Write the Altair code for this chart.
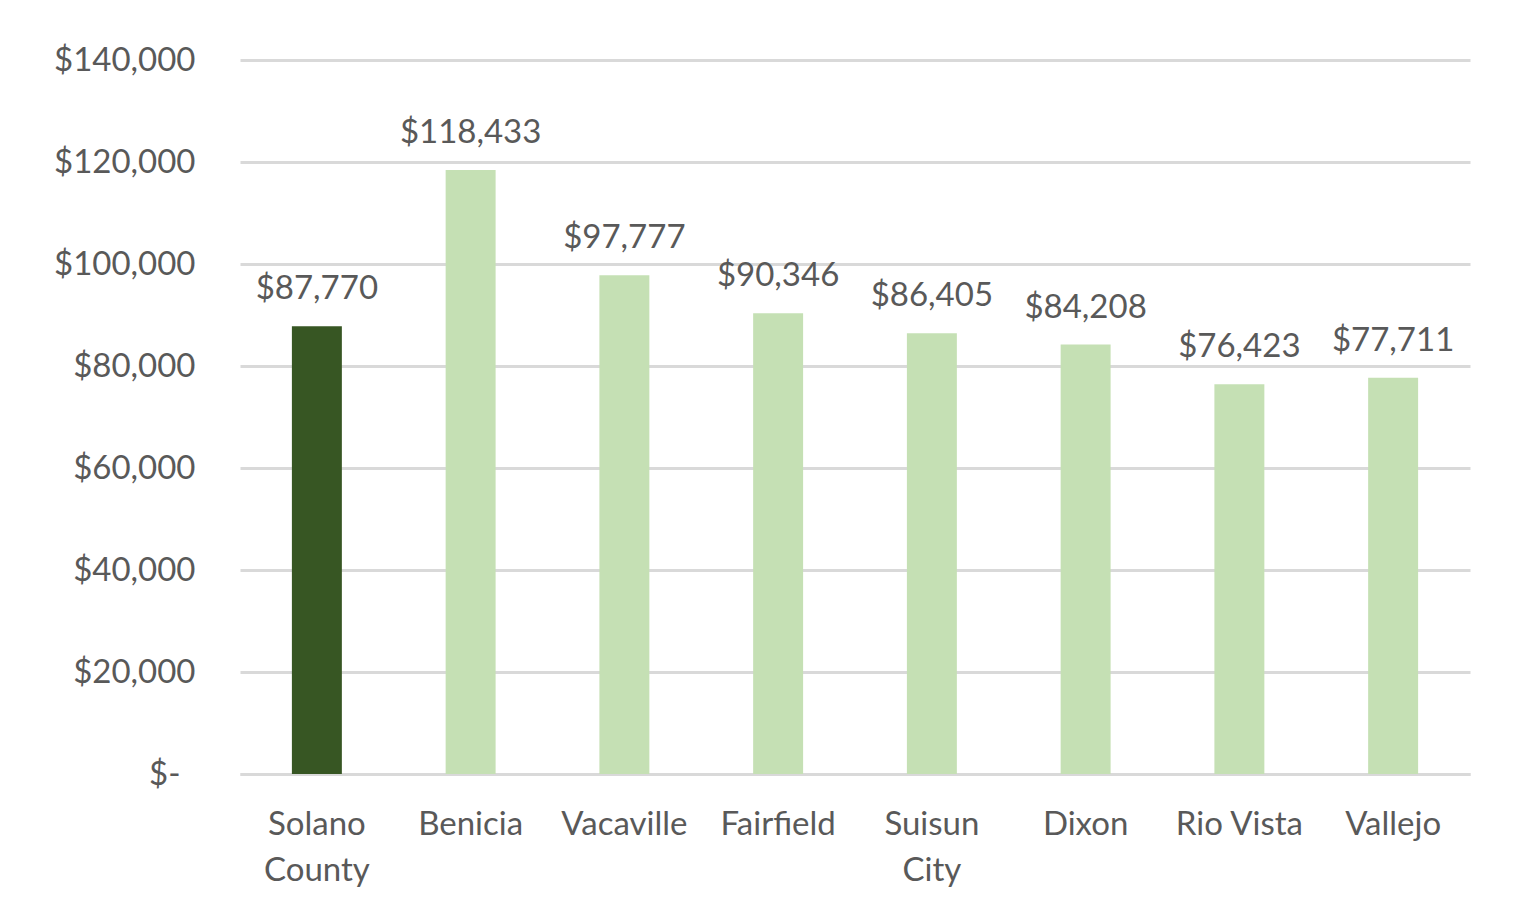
import altair as alt
import pandas as pd

categories = ["Solano County", "Benicia", "Vacaville", "Fairfield", "Suisun City", "Dixon", "Rio Vista", "Vallejo"]
values = [87770, 118433, 97777, 90346, 86405, 84208, 76423, 77711]
groups = ["county", "city", "city", "city", "city", "city", "city", "city"]
y_ticks = [0, 20000, 40000, 60000, 80000, 100000, 120000, 140000]

df = pd.DataFrame({"place": categories, "income": values, "group": groups})

FONT = "Lato"
TXT = "#595959"
GRID = "#D9D9D9"
FS = 33

x = alt.X(
    "place:N",
    sort=None,
    scale=alt.Scale(paddingInner=0.675, paddingOuter=0.3375),
    axis=alt.Axis(
        title=None,
        labelAngle=0,
        labelFont=FONT,
        labelFontSize=FS,
        labelColor=TXT,
        labelPadding=34,
        labelLineHeight=46,
        labelExpr="(datum.label == 'Solano County' || datum.label == 'Suisun City') ? split(datum.label, ' ') : datum.label",
        ticks=False,
        domainColor=GRID,
        domainWidth=3,
        grid=False,
        labelLimit=300,
    ),
)

y = alt.Y(
    "income:Q",
    scale=alt.Scale(domain=[0, 140000], nice=False),
    axis=alt.Axis(
        title=None,
        values=y_ticks,
        labelExpr="datum.value == 0 ? '$-' : format(datum.value, '$,')",
        labelFont=FONT,
        labelFontSize=FS,
        labelColor=TXT,
        labelPadding={"condition": {"test": "datum.value == 0", "value": 60}, "value": 45},
        ticks=False,
        domain=False,
        gridColor=GRID,
        gridWidth=3,
    ),
)

bars = alt.Chart(df).mark_bar().encode(
    x=x,
    y=y,
    color=alt.Color(
        "group:N",
        scale=alt.Scale(domain=["county", "city"], range=["#375623", "#C5E0B4"]),
        legend=None,
    ),
)

labels = alt.Chart(df).mark_text(
    baseline="bottom", dy=-20, font=FONT, fontSize=FS, color=TXT
).encode(
    x=alt.X("place:N", sort=None),
    y=alt.Y("income:Q"),
    text=alt.Text("income:Q", format="$,.0f"),
)

chart = (
    alt.layer(bars, labels)
    .properties(
        width=1230,
        height=714,
        autosize=alt.AutoSizeParams(type="none"),
        padding={"left": 232, "top": 52, "right": 49, "bottom": 137},
        background="white",
    )
    .configure_view(stroke=None, strokeWidth=0)
)

chart.save("out.html", embed_options={"renderer": "svg", "actions": False})
